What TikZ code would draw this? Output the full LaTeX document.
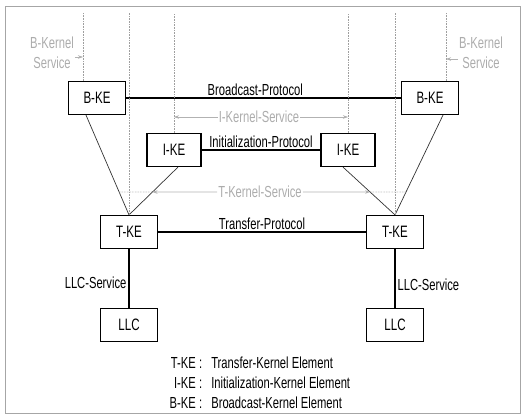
\documentclass[tikz,border=0pt]{standalone}
\usepackage{fontspec}
\setmainfont{Liberation Sans}[FakeStretch=0.7]
\usepackage{tikz}
\usetikzlibrary{arrows.meta, calc}
\tikzstyle{kebox} = [rectangle, draw=black, line width=1.2pt, minimum width=57pt, minimum height=33pt, inner sep=0pt, font=\fontsize{16.5}{18}\selectfont]
\tikzstyle{proto} = [line width=1.6pt]
\tikzstyle{plabel} = [above, inner sep=1.5pt]
\tikzstyle{tie} = [line width=0.7pt, draw=black!80]
\tikzstyle{svcline} = [densely dotted, line width=0.6pt, draw=gray!75]
\tikzstyle{svcarrow} = [line width=0.8pt, draw=gray!60, -{Stealth[length=5pt, width=3.5pt, fill=gray!90!black]}]
\tikzstyle{svctext} = [text=gray!65, inner sep=1pt, font=\fontsize{16}{20}\selectfont]

\begin{document}
\begin{tikzpicture}[x=1pt, y=-1pt, every node/.style={font=\fontsize{16}{18}\selectfont}]
  \useasboundingbox (0,0) rectangle (525,418);
  \draw[gray!70, line width=0.8pt] (5,6) rectangle (520,413);

  % kernel elements
  \node[kebox] (bkeL) at (97,98) {B-KE};
  \node[kebox] (bkeR) at (430,98) {B-KE};
  \node[kebox, minimum width=54pt] (ikeL) at (174,150) {I-KE};
  \node[kebox, minimum width=54pt] (ikeR) at (348,150) {I-KE};
  \node[kebox] (tkeL) at (129,232) {T-KE};
  \node[kebox] (tkeR) at (395,232) {T-KE};
  \node[kebox] (llcL) at (129,325) {LLC};
  \node[kebox] (llcR) at (395,325) {LLC};

  % protocols
  \draw[proto] (bkeL) -- node[plabel, pos=0.47] {Broadcast-Protocol} (bkeR);
  \draw[proto] (ikeL) -- node[plabel] {Initialization-Protocol} (ikeR);
  \draw[proto] (tkeL) -- node[plabel] {Transfer-Protocol} (tkeR);
  \draw[line width=1.2pt] (tkeL) -- node[left, pos=0.58, inner sep=2pt] {LLC-Service} (llcL);
  \draw[line width=1.2pt] (tkeR) -- node[right, pos=0.6, inner sep=2pt] {LLC-Service} (llcR);

  % ties down to T-KE
  \coordinate (bLb) at ($(bkeL.south)+(-11,0)$);
  \coordinate (bRb) at ($(bkeR.south)+(13,0)$);
  \coordinate (iLb) at ($(ikeL.south)+(4,0)$);
  \coordinate (iRb) at ($(ikeR.south)+(-5,0)$);
  \draw[tie] (bLb) -- (tkeL.north);
  \draw[tie] (iLb) -- (tkeL.north);
  \draw[tie] (bRb) -- (tkeR.north);
  \draw[tie] (iRb) -- (tkeR.north);

  % service boundaries
  \coordinate (bLt) at (83,13);
  \coordinate (bRt) at (446,13);
  \draw[svcline] (bLt) -- (bLt |- bkeL.north);
  \draw[svcline] (bRt) -- (bRt |- bkeR.north);
  \draw[svcline] (ikeL.north) -- (ikeL.north |- bLt);
  \draw[svcline] (ikeR.north) -- (ikeR.north |- bLt);
  \draw[svcline] (tkeL.north) -- (tkeL.north |- bLt);
  \draw[svcline] (tkeR.north) -- (tkeR.north |- bLt);

  % service labels
  \node[svctext, align=center] (bksL) at (52,53) {B-Kernel\\Service};
  \node[svctext, align=center] (bksR) at (481,53) {B-Kernel\\Service};
  \draw[svcarrow] ([yshift=-4pt]bksL.east) -- ([yshift=-4pt]bksL.east -| bLt);
  \draw[svcarrow] ([yshift=-6pt]bksR.west) -- ([yshift=-6pt]bksR.west -| bRt);

  \node[svctext] (iks) at (259,117) {I-Kernel-Service};
  \draw[svcarrow] (iks) -- (iks -| ikeL.north);
  \draw[svcarrow] (iks) -- (iks -| ikeR.north);

  \node[svctext] (tks) at (260,192) {T-Kernel-Service};
  \coordinate (tL1) at (intersection of bLb--tkeL.north and tks.west--tks.east);
  \coordinate (tL2) at (intersection of iLb--tkeL.north and tks.west--tks.east);
  \coordinate (tR1) at (intersection of iRb--tkeR.north and tks.west--tks.east);
  \coordinate (tR2) at (intersection of bRb--tkeR.north and tks.west--tks.east);
  \draw[svcline] (tL1) -- (tL2);
  \draw[svcline] (tR1) -- (tR2);
  \draw[svcarrow] (tks) -- (tL2);
  \draw[svcarrow] (tks) -- (tR1);

  % legend
  \node[anchor=base east, inner sep=0pt] (keyT) at (196,368) {T-KE};
  \node[anchor=base west, inner sep=0pt] (defT) at (199,368) {:\hspace{9pt}Transfer-Kernel Element};
  \node[anchor=base east, inner sep=0pt] (keyI) at (196,388) {I-KE};
  \node[anchor=base west, inner sep=0pt] (defI) at (199,388) {:\hspace{9pt}Initialization-Kernel Element};
  \node[anchor=base east, inner sep=0pt] (keyB) at (196,408) {B-KE};
  \node[anchor=base west, inner sep=0pt] (defB) at (199,408) {:\hspace{9pt}Broadcast-Kernel Element};
\end{tikzpicture}
\end{document}
